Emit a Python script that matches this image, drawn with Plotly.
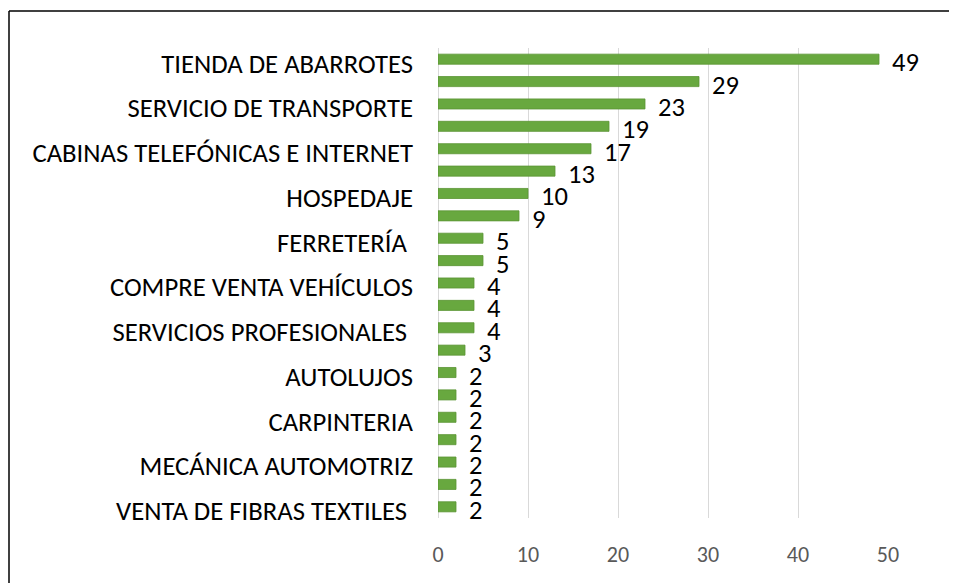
import plotly.graph_objects as go

# ---- data ----
categories = [
    "TIENDA DE ABARROTES", None,
    "SERVICIO DE TRANSPORTE", None,
    "CABINAS TELEFÓNICAS E INTERNET", None,
    "HOSPEDAJE", None,
    "FERRETERÍA\u00a0", None,
    "COMPRE VENTA VEHÍCULOS", None,
    "SERVICIOS PROFESIONALES\u00a0", None,
    "AUTOLUJOS", None,
    "CARPINTERIA", None,
    "MECÁNICA AUTOMOTRIZ", None,
    "VENTA DE FIBRAS TEXTILES\u00a0",
]
values = [49, 29, 23, 19, 17, 13, 10, 9, 5, 5, 4, 4, 4, 3, 2, 2, 2, 2, 2, 2, 2]
x_ticks = [0, 10, 20, 30, 40, 50]

positions = list(range(len(values)))
tickvals = [i for i, c in enumerate(categories) if c]
ticktext = [c for c in categories if c]

FONT = "Carlito, Calibri, Lato, sans-serif"

fig = go.Figure()
fig.add_trace(go.Bar(
    x=values,
    y=positions,
    orientation="h",
    marker=dict(color="#68a83f", line=dict(color="#5a9434", width=0.8)),
    hoverinfo="x",
))

for v, p in zip(values, positions):
    fig.add_annotation(
        x=v, y=p, text=str(v), showarrow=False,
        xanchor="left", yanchor="middle", xshift=11, yshift=-3,
        font=dict(family=FONT, size=26.5, color="#000000"),
    )

# page body has an 8px margin; figure is sized/positioned to compensate
OFF = 8
W, H = 957 - OFF, 583 - OFF
L = 438 - OFF
T = 48 - OFF
R = W - (888 - OFF)
B = H - (518 - OFF)
pw = W - L - R
ph = H - T - B

# outer frame (left and top edges visible)
fx0 = (9 - OFF - L) / pw
fy1 = (H - B - (11 - OFF)) / ph
fig.add_shape(type="line", xref="paper", yref="paper", x0=fx0, x1=fx0, y0=fy1, y1=-1,
              line=dict(color="#000000", width=1.5))
fig.add_shape(type="line", xref="paper", yref="paper", x0=fx0, x1=3, y0=fy1, y1=fy1,
              line=dict(color="#000000", width=1.5))

fig.update_layout(
    width=W, height=H,
    margin=dict(l=L, r=R, t=T, b=B),
    paper_bgcolor="white", plot_bgcolor="white",
    bargap=0.55,
    showlegend=False,
    font=dict(family=FONT),
    xaxis=dict(
        range=[0, 50], tickvals=x_ticks, showgrid=True, gridcolor="#d9d9d9", gridwidth=1,
        zeroline=True, zerolinecolor="#d9d9d9", zerolinewidth=1,
        showline=False, ticks="",
        tickfont=dict(family=FONT, size=22, color="#595959"),
        ticklabelstandoff=21,
    ),
    yaxis=dict(
        range=[len(values) - 0.5, -0.5],
        tickvals=tickvals, ticktext=ticktext,
        showgrid=False, zeroline=False, showline=False, ticks="",
        tickfont=dict(family=FONT, size=26.7, color="#000000"),
        ticklabelstandoff=24,
        ticklabelshift=-4,
    ),
)

fig.write_html("out.html")
